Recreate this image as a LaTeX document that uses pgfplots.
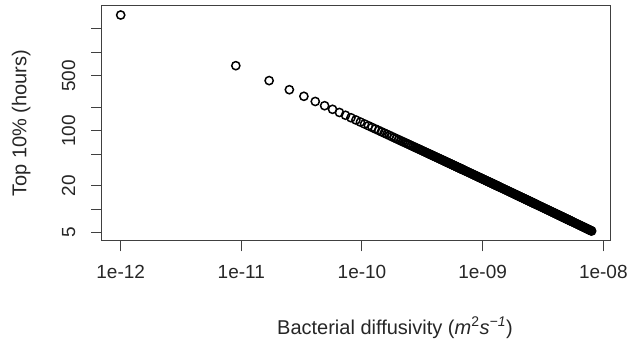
\documentclass[border=0pt]{standalone}
\usepackage{pgfplots}
\pgfplotsset{compat=1.18}
\usepackage{fontspec}
\setmainfont{Liberation Sans}
\pgfplotstableread{
x y
1e-12 2999
9e-12 676.6
17e-12 436.4
25e-12 333.9
33e-12 275.2
41e-12 236.5
49e-12 208.7
57e-12 187.7
65e-12 171.2
73e-12 157.7
81e-12 146.6
89e-12 137.2
97e-12 129.1
105e-12 122.03
113e-12 115.85
121e-12 110.37
129e-12 105.47
137e-12 101.06
145e-12 97.07
153e-12 93.39
161e-12 90.07
169e-12 87.06
177e-12 84.19
185e-12 81.57
193e-12 79.15
201e-12 76.94
209e-12 74.79
217e-12 72.78
225e-12 70.93
233e-12 69.21
241e-12 67.60
249e-12 66.01
257e-12 64.51
265e-12 63.11
273e-12 61.79
281e-12 60.53
289e-12 59.36
297e-12 58.21
305e-12 57.11
313e-12 56.06
321e-12 55.06
329e-12 54.09
337e-12 53.16
345e-12 52.27
353e-12 51.42
361e-12 50.61
369e-12 49.82
377e-12 49.05
385e-12 48.33
393e-12 47.61
401e-12 46.93
409e-12 46.27
417e-12 45.63
425e-12 45.01
433e-12 44.41
441e-12 43.83
449e-12 43.26
457e-12 42.72
465e-12 42.19
473e-12 41.68
481e-12 41.18
489e-12 40.67
497e-12 40.20
505e-12 39.74
513e-12 39.29
521e-12 38.86
529e-12 38.45
537e-12 38.04
545e-12 37.63
553e-12 37.23
561e-12 36.85
569e-12 36.47
577e-12 36.11
585e-12 35.75
593e-12 35.41
601e-12 35.07
609e-12 34.73
617e-12 34.40
625e-12 34.08
633e-12 33.77
641e-12 33.47
649e-12 33.17
657e-12 32.87
665e-12 32.59
673e-12 32.31
681e-12 32.04
689e-12 31.77
705e-12 31.24
721e-12 30.73
737e-12 30.25
753e-12 29.79
769e-12 29.34
785e-12 28.91
801e-12 28.49
817e-12 28.08
833e-12 27.67
849e-12 27.29
865e-12 26.93
881e-12 26.57
897e-12 26.22
913e-12 25.89
929e-12 25.57
945e-12 25.26
961e-12 24.96
977e-12 24.66
993e-12 24.37
1009e-12 24.09
1025e-12 23.82
1041e-12 23.54
1057e-12 23.28
1073e-12 23.03
1089e-12 22.79
1105e-12 22.55
1121e-12 22.32
1137e-12 22.10
1153e-12 21.88
1169e-12 21.66
1185e-12 21.44
1201e-12 21.24
1217e-12 21.03
1233e-12 20.83
1249e-12 20.63
1265e-12 20.44
1281e-12 20.25
1297e-12 20.07
1313e-12 19.89
1329e-12 19.71
1345e-12 19.55
1361e-12 19.38
1377e-12 19.21
1409e-12 18.89
1441e-12 18.59
1473e-12 18.30
1505e-12 18.01
1537e-12 17.74
1569e-12 17.46
1601e-12 17.21
1633e-12 16.97
1665e-12 16.73
1697e-12 16.50
1729e-12 16.28
1761e-12 16.06
1793e-12 15.85
1825e-12 15.65
1857e-12 15.44
1889e-12 15.26
1921e-12 15.06
1953e-12 14.88
1985e-12 14.71
2017e-12 14.53
2049e-12 14.37
2081e-12 14.21
2113e-12 14.05
2145e-12 13.90
2177e-12 13.75
2209e-12 13.61
2241e-12 13.46
2273e-12 13.32
2305e-12 13.19
2337e-12 13.06
2369e-12 12.92
2401e-12 12.80
2433e-12 12.68
2465e-12 12.56
2497e-12 12.43
2529e-12 12.32
2561e-12 12.20
2593e-12 12.09
2625e-12 11.99
2657e-12 11.88
2689e-12 11.77
2721e-12 11.67
2753e-12 11.57
2817e-12 11.38
2881e-12 11.19
2945e-12 11.01
3009e-12 10.84
3073e-12 10.67
3137e-12 10.51
3201e-12 10.36
3265e-12 10.21
3329e-12 10.06
3393e-12 9.93
3457e-12 9.79
3521e-12 9.66
3585e-12 9.53
3649e-12 9.405
3713e-12 9.285
3777e-12 9.17
3841e-12 9.056
3905e-12 8.947
3969e-12 8.840
4033e-12 8.736
4097e-12 8.635
4161e-12 8.537
4225e-12 8.441
4289e-12 8.348
4353e-12 8.257
4417e-12 8.168
4481e-12 8.083
4545e-12 7.998
4609e-12 7.916
4673e-12 7.835
4737e-12 7.757
4801e-12 7.680
4865e-12 7.605
4929e-12 7.532
4993e-12 7.461
5057e-12 7.391
5121e-12 7.323
5185e-12 7.256
5249e-12 7.191
5313e-12 7.126
5377e-12 7.062
5441e-12 7.001
5505e-12 6.941
5633e-12 6.824
5761e-12 6.711
5889e-12 6.603
6017e-12 6.498
6145e-12 6.397
6273e-12 6.300
6401e-12 6.207
6529e-12 6.116
6657e-12 6.028
6785e-12 5.944
6913e-12 5.862
7041e-12 5.783
7169e-12 5.706
7297e-12 5.632
7425e-12 5.559
7553e-12 5.490
7681e-12 5.422
7809e-12 5.355
7937e-12 5.291
8001e-12 5.259
}\datatable
\begin{document}
\begin{tikzpicture}[x=1pt,y=1pt]
\path[use as bounding box] (0,0) rectangle (629,339);
\begin{axis}[
  at={(102pt,98.5pt)}, anchor=south west,
  width=509pt, height=234.8pt, scale only axis,
  xmode=log, ymode=log,
  xmin=6.998e-13, xmax=1.158e-8,
  ymin=3.976, ymax=3945,
  axis line style={black!75, line width=1pt},
  tick style={black!75, line width=1pt},
  tick align=outside, major tick length=11pt,
  xtick pos=left, ytick pos=left,
  xminorticks=false, yminorticks=false,
  xtick={1e-12,1e-11,1e-10,1e-9,1e-8},
  xticklabels={1e-12,1e-11,1e-10,1e-09,1e-08},
  ytick={5,10,20,50,100,200,500,1000,2000},
  yticklabels={5,,20,,100,,500,,},
  ticklabel style={font=\fontsize{19}{19}\selectfont, text=black!85},
  yticklabel style={rotate=90, anchor=base, yshift=16pt, inner sep=0pt},
  xticklabel style={anchor=base, yshift=-27.5pt, inner sep=0pt},
  xlabel={Bacterial diffusivity (\textit{m}\textsuperscript{2}\textit{s}\textsuperscript{\textit{\char"2212 1}})},
  ylabel={Top 10\% (hours)},
  xlabel style={at={(axis description cs:0.5756,-0.3985)}, anchor=base, inner sep=0pt, font=\fontsize{20}{24}\selectfont, text=black!85},
  ylabel style={at={(axis description cs:-0.1483,0.5)}, anchor=base, inner sep=0pt, font=\fontsize{20}{24}\selectfont, text=black!85},
  clip=false
]
\addplot[only marks, mark=o, mark size=4.1pt, mark options={line width=1.5pt, draw=black}] table[x=x, y=y] {\datatable};
\end{axis}
\end{tikzpicture}
\end{document}
